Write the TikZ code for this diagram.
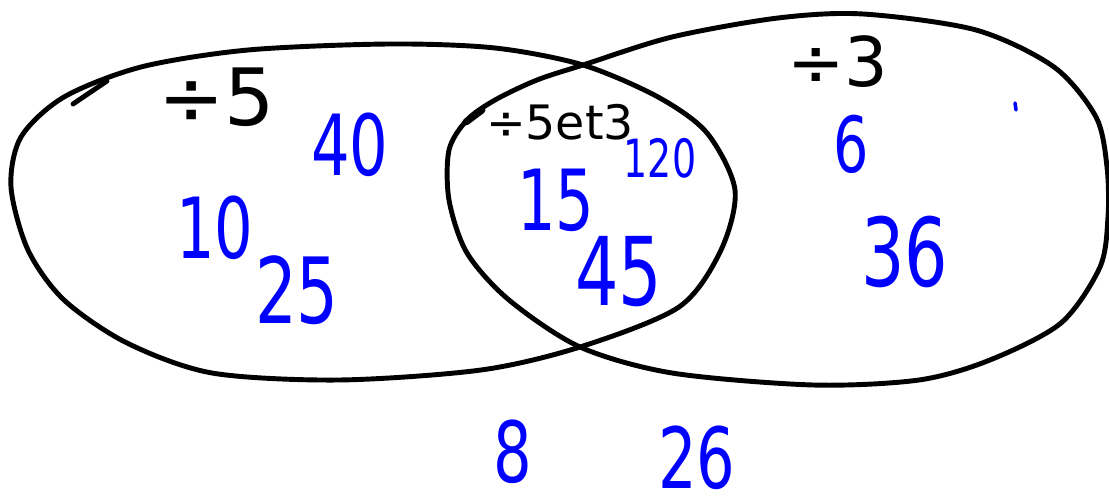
\documentclass[tikz,border=0pt]{standalone}
\usepackage{fontspec}
\usepackage{graphicx}
\setmainfont{DejaVu Sans}
\usetikzlibrary{positioning}
\tikzset{
  setline/.style={draw, line width=2.8pt, line cap=round, line join=round},
  setname/.style={inner sep=0pt, text=black},
  num/.style={inner sep=0pt, text=blue},
}
\newcommand{\hw}[1]{\scalebox{0.72}[1]{#1}}
\newcommand{\fs}[1]{\fontsize{#1}{#1}\selectfont}

\begin{document}
\begin{tikzpicture}[x=0.02cm, y=-0.02cm]
    \clip (0,0) rectangle (1109,503);
    % the two sets
    \draw[setline] plot[smooth cycle] coordinates {
      (11,187) (21,137) (64,97) (141,67) (248,50) (389,44) (495,48)
      (583,65) (658,97) (707,133) (735,190) (721,250) (679,307)
      (580,347) (481,370) (339,380) (212,373) (127,343) (64,300) (28,250)};
    \draw[setline] plot[smooth cycle] coordinates {
      (583,65) (672,37) (778,18) (863,14) (976,30) (1054,67) (1096,117)
      (1107,167) (1108,217) (1100,267) (1061,323) (990,360) (919,380)
      (813,385) (672,373) (580,347) (509,300) (467,253) (449,200)
      (449,150) (467,120) (495,100) (537,80)};
    \draw[setline] (73,104) -- (107,81);
    \draw[setline, line width=4pt] (466,122) -- (482,110);
    \draw[setline, draw=blue, line width=2pt] (1015,103) -- (1016,110);

    \node[setname] (div5)  at (217,97)  {\fs{45}÷5};
    \node[setname] (div3)  at (838,62)  {\fs{39}÷3};
    \node[setname] (both)  at (560,122) {\fs{27}÷5et3};

    \node[num] (n40)  at (350,145) {\fs{48}\hw{40}};
    \node[num] (n10)  at (215,228) {\fs{48}\hw{10}};
    \node[num] (n25)  at (297,290) {\fs{52}\hw{25}};
    \node[num] (n15)  at (556,200) {\fs{48}\hw{15}};
    \node[num] (n120) at (660,158) {\fs{30}\hw{120}};
    \node[num] (n45)  at (619,272) {\fs{54}\hw{45}};
    \node[num] (n6)   at (851,144) {\fs{44}\hw{6}};
    \node[num] (n36)  at (905,252) {\fs{54}\hw{36}};
    \node[num] (n8)   at (513,452) {\fs{48}\hw{8}};
    \node[num] (n26)  at (697,458) {\fs{48}\hw{26}};
\end{tikzpicture}
\end{document}
